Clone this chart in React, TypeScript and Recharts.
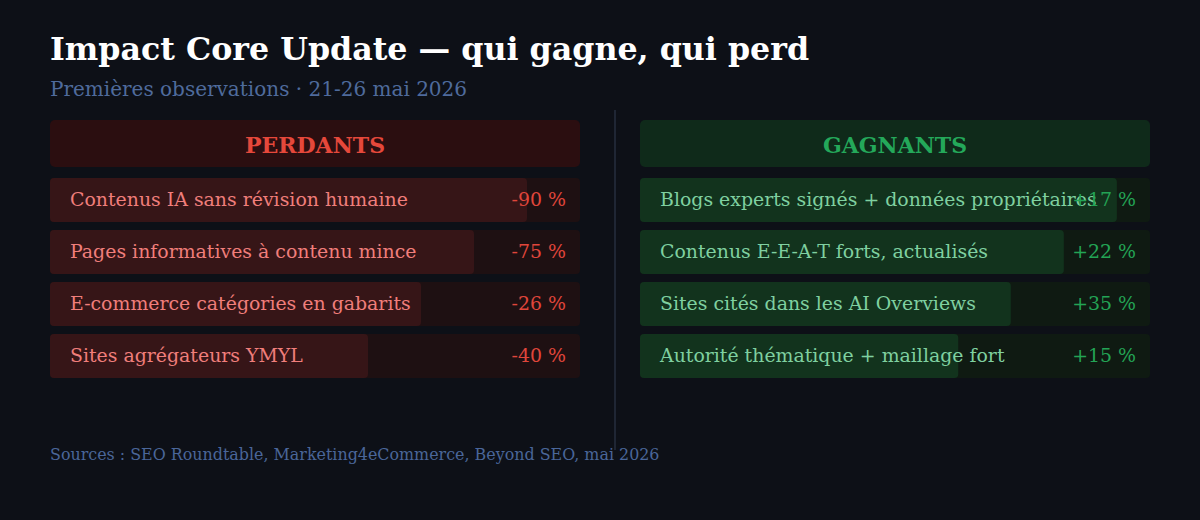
import React from 'react';
import { BarChart, Bar, XAxis, YAxis, LabelList } from 'recharts';

const loserNames = [
  'Contenus IA sans révision humaine',
  'Pages informatives à contenu mince',
  'E-commerce catégories en gabarits',
  'Sites agrégateurs YMYL',
];
const loserChanges = ['-90 %', '-75 %', '-26 %', '-40 %'];
const loserBars = [90, 80, 70, 60];

const winnerNames = [
  'Blogs experts signés + données propriétaires',
  'Contenus E-E-A-T forts, actualisés',
  'Sites cités dans les AI Overviews',
  'Autorité thématique + maillage fort',
];
const winnerChanges = ['+17 %', '+22 %', '+35 %', '+15 %'];
const winnerBars = [93.5, 83.1, 72.7, 62.4];

const FONT = '"DejaVu Serif", serif';
const BG = '#0d1017';

type Theme = {
  title: string;
  head: string;
  headText: string;
  bar: string;
  track: string;
  label: string;
  value: string;
};

const red: Theme = {
  title: 'PERDANTS',
  head: '#2b0e10',
  headText: '#e5483b',
  bar: '#361517',
  track: '#1e1012',
  label: '#f07e7b',
  value: '#e0463b',
};

const green: Theme = {
  title: 'GAGNANTS',
  head: '#0f2a1a',
  headText: '#24a85a',
  bar: '#12331d',
  track: '#0f1a12',
  label: '#7fd0a0',
  value: '#23a455',
};

const Panel = ({ left, width, names, changes, bars, theme }: any) => {
  const data = names.map((name: string, i: number) => ({ name, score: bars[i], change: changes[i] }));

  const renderLabel = (props: any) => {
    const { x, y, height, index } = props;
    const cy = y + height / 2;
    return (
      <g>
        <text x={x + 20} y={cy} dy="0.3em" fill={theme.label} fontSize={18.9} fontFamily={FONT}>
          {names[index]}
        </text>
        <text x={width - 14} y={cy} dy="0.3em" textAnchor="end" fill={theme.value} fontSize={18.9} fontFamily={FONT}>
          {changes[index]}
        </text>
      </g>
    );
  };

  return (
    <>
      <div
        style={{
          position: 'absolute',
          left,
          top: 120,
          width,
          height: 47,
          background: theme.head,
          borderRadius: 5,
          color: theme.headText,
          fontFamily: FONT,
          fontWeight: 'bold',
          fontSize: 22,
          lineHeight: '50px',
          textAlign: 'center',
        }}
      >
        {theme.title}
      </div>
      <div style={{ position: 'absolute', left, top: 174 }}>
        <BarChart
          width={width}
          height={208}
          data={data}
          layout="vertical"
          margin={{ top: 0, right: 0, bottom: 0, left: 0 }}
        >
          <XAxis type="number" domain={[0, 100]} hide />
          <YAxis type="category" dataKey="name" hide />
          <Bar
            dataKey="score"
            barSize={44}
            fill={theme.bar}
            radius={4}
            background={{ fill: theme.track, radius: 4 }}
            isAnimationActive={false}
          >
            <LabelList dataKey="score" content={renderLabel} />
          </Bar>
        </BarChart>
      </div>
    </>
  );
};

export default function App() {
  return (
    <div
      style={{
        position: 'absolute',
        left: 0,
        top: 0,
        width: 1200,
        height: 520,
        background: BG,
        fontFamily: FONT,
        overflow: 'hidden',
      }}
    >
      <div
        style={{
          position: 'absolute',
          left: 50,
          top: 30,
          fontSize: 31.7,
          fontWeight: 'bold',
          color: '#ffffff',
          whiteSpace: 'nowrap',
        }}
      >
        Impact Core Update — qui gagne, qui perd
      </div>
      <div
        style={{
          position: 'absolute',
          left: 50,
          top: 77,
          fontSize: 20,
          color: '#4f6b9c',
          whiteSpace: 'nowrap',
        }}
      >
        Premières observations · 21-26 mai 2026
      </div>
      <div style={{ position: 'absolute', left: 614, top: 110, width: 2, height: 340, background: '#1f2634' }} />
      <Panel left={50} width={530} names={loserNames} changes={loserChanges} bars={loserBars} theme={red} />
      <Panel left={640} width={510} names={winnerNames} changes={winnerChanges} bars={winnerBars} theme={green} />
      <div
        style={{
          position: 'absolute',
          left: 50,
          top: 445,
          fontSize: 15.9,
          color: '#4a6699',
          whiteSpace: 'nowrap',
        }}
      >
        Sources : SEO Roundtable, Marketing4eCommerce, Beyond SEO, mai 2026
      </div>
    </div>
  );
}
